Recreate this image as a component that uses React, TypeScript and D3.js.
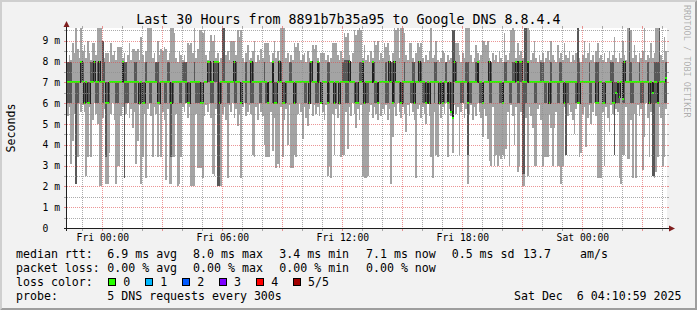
import React from "react";
import * as d3 from "d3";

// ---------------- data ----------------
const titleText = "Last 30 Hours from 8891b7b35a95 to Google DNS 8.8.4.4";
const yAxisTitle = "Seconds";
const watermarkText = "RRDTOOL / TOBI OETIKER";
const startIso = "2025-12-04T22:14:00Z";
const stepSeconds = 300;
const yTop = 9.62;
const yTickValues = [0, 1, 2, 3, 4, 5, 6, 7, 8, 9];
const yTickLabels = ["0", "1 m", "2 m", "3 m", "4 m", "5 m", "6 m", "7 m", "8 m", "9 m"];
const xTickTimes = ["2025-12-05T00:00:00Z", "2025-12-05T06:00:00Z", "2025-12-05T12:00:00Z", "2025-12-05T18:00:00Z", "2025-12-06T00:00:00Z"];
const xTickLabels = ["Fri 00:00", "Fri 06:00", "Fri 12:00", "Fri 18:00", "Sat 00:00"];

// median RTT (ms), one value per 300 s step
const medianRtt = [
  7,7,7,7,7,7,7,7,8,7, 6,7,6,6,7,7,8,7,7,8, 7,7,7,6,6,7,7,7,7,7, 7,7,7,8,7,7,7,7,7,7,
  7,7,7,6,7,6,6,7,7,7, 7,7,7,7,6,6,7,7,7,7, 7,7,6,7,7,7,7,7,7,7, 7,7,6,6,7,7,7,7,7,7,
  6,6,7,7,8,8,7,7,8,8, 8,6,7,7,7,7,7,7,7,7, 8,7,7,7,6,7,7,7,7,7, 8,7,7,7,7,7,7,7,7,7,
  6,7,7,8,6,6,7,8,7,6, 6,7,7,7,7,7,6,7,7,7, 7,7,7,7,7,6,8,7,7,7, 8,7,6,7,7,7,6,7,7,7,
  6,7,7,6,7,7,7,7,7,8, 7,7,7,6,6,7,7,8,6,7, 7,7,7,8,7,7,6,7,7,7, 7,7,7,8,7,6,8,7,7,7,
  6,7,7,7,7,7,7,7,6,7, 7,8,7,7,7,6,7,6,7,7, 7,7,7,6,7,6,7,7,6,7, 5.6,5.3,8,7,7,7,7,7,7,7,
  6,7,7,7,7,7,8,7,7,6, 7,7,7,8,7,7,7,7,7,7, 7,6,7,7,7,7,7,7,7,8, 7,8,8,7,7,7,8,7,7,7,
  7,7,7,7,7,7,7,7,7,6, 7,7,7,7,7,7,7,7,6,7, 7,7,7,7,7,7,6,6,7,7, 7,7,7,7,7,7,7,6,6,7,
  7,6,6,7,7,7,7,6,6,6.5, 7,6.3,7,6.2,8,7,7,7,7,7, 7,7,7,7,7,7,7,7,7,6, 7,6.5,7,7,6,7,7,7,7,7.2,
];
// lowest of the 5 pings
const smokeMin = [
  5.4,5.8,3.1,4.2,5.5,2.1,3.4,6.0,5.6,5.9, 5.6,2.5,3.4,5.8,3.4,5.2,6.0,5.5,5.0,2.0,
  2.0,5.3,5.7,2.1,2.1,3.6,5.5,6.0,5.2,2.1, 3.0,3.0,5.4,5.8,2.4,5.5,6.0,5.3,5.7,4.8,
  5.6,3.1,4.2,5.9,2.1,3.4,5.5,2.4,5.7,6.0, 5.4,3.4,5.8,5.5,3.4,5.9,3.4,5.6,5.2,2.3,
  5.7,2.1,2.1,3.4,3.4,5.5,2.0,2.1,3.4,5.8, 5.6,6.0,5.3,5.8,2.0,2.0,2.0,5.5,2.9,2.9,
  2.9,2.4,5.4,5.9,5.6,6.0,5.3,2.6,2.5,5.7, 2.0,2.0,2.0,5.5,5.8,5.2,2.4,5.9,5.6,6.0,
  5.3,5.7,4.9,5.5,2.4,5.8,6.0,5.4,5.6,5.9, 5.5,3.5,3.4,5.8,5.2,6.0,5.6,5.4,4.0,3.4,
  3.4,3.4,5.6,3.7,5.3,2.9,3.1,2.9,5.8,3.4, 5.2,5.7,4.0,5.9,2.9,2.9,3.5,3.4,5.5,6.0,
  5.6,4.3,5.8,5.3,4.9,5.7,6.0,5.4,5.9,5.5, 5.8,5.4,6.0,5.6,5.2,5.9,2.5,3.0,2.4,5.5,
  3.5,5.7,5.3,5.9,3.4,3.5,3.5,5.6,3.8,5.8, 5.4,6.0,5.5,4.8,5.7,5.2,5.9,2.5,2.4,2.4,
  2.5,5.6,5.9,5.3,5.8,5.5,5.2,6.0,5.4,5.7, 5.5,5.9,5.2,5.7,2.1,4.4,5.8,5.4,6.0,5.6,
  5.3,5.8,5.5,4.6,5.9,5.4,6.0,5.6,5.2,2.4, 5.7,5.9,5.3,5.8,5.5,5.0,6.0,5.4,3.4,2.4,
  5.6,3.5,3.4,5.9,5.3,5.8,5.5,6.0,3.4,5.7, 5.4,3.6,5.9,5.5,5.8,3.5,5.6,6.0,5.3,5.7,
  2.1,5.5,5.9,5.2,5.8,5.4,6.0,5.6,5.3,4.4, 5.7,5.4,4.3,3.2,3.0,5.8,3.0,3.5,3.0,3.5,
  3.3,3.5,3.3,3.8,5.6,3.0,5.9,5.4,4.0,5.8, 2.7,3.0,5.6,2.0,2.0,5.3,2.5,5.8,5.4,4.8,
  3.0,3.0,5.7,5.9,5.2,3.0,3.4,3.4,3.4,5.5, 4.8,3.0,4.8,5.6,3.0,3.0,2.1,3.0,5.8,3.5,
  5.4,5.9,5.6,5.2,4.5,5.7,6.0,3.4,3.6,5.5, 5.8,3.9,5.3,5.9,5.0,5.6,6.0,5.4,2.4,2.4,
  2.4,5.6,3.0,5.8,5.3,4.6,5.9,5.5,3.5,5.7, 5.6,2.4,2.1,3.5,3.5,5.8,3.3,3.3,5.2,2.4,
  5.5,2.4,5.9,5.4,5.7,2.8,4.4,6.0,5.3,3.4, 5.6,2.5,2.4,2.7,3.4,5.8,5.3,3.0,3.4,5.7,
];
// second-lowest ping
const smokeLow = [
  6,6,6,7,7,2.1,6,7,7,7, 6,6,6,6,7,7,7,6,6,7, 7,6,7,3.4,6,6,7,7,7,6, 6,7,7,7,2.4,6,6,7,7,7,
  6,6,7,6,6,6,6,7,7,6, 6,7,7,7,6,6,7,7,6,6, 7,6,3.4,6,7,7,7,6,6,7, 7,6,6,6,7,7,7,6,6,6,
  6,6,7,7,7,7,6,6,7,7, 2.0,2.0,6,7,7,7,6,6,7,7, 6,6,7,7,6,7,7,6,7,7, 6,6,7,7,7,6,6,7,7,6,
  6,7,7,6,6,6,7,7,7,6, 6,6,7,7,7,7,6,6,7,7, 7,7,6,6,7,6,7,7,7,6, 6,7,6,7,7,7,6,6,7,7,
  6,6,7,6,7,7,7,6,6,7, 7,7,6,6,6,7,7,7,6,6, 6,7,7,7,6,6,6,7,7,7, 7,6,6,7,7,6,6,7,7,6,
  6,6,7,7,7,7,6,6,6,7, 7,7,7,6,6,6,7,6,7,7, 6,7,7,6,6,7,6,7,6,6, 5.6,5.3,7,7,7,7,6,6,7,7,
  3.5,6,6,7,7,7,7,6,6,6, 7,7,7,6,6,7,7,7,7,6, 6,6,7,7,7,6,6,7,7,7, 6,6,7,2.6,2.6,6,7,7,7,7,
  6,6,7,7,7,7,6,6,7,7, 6,7,7,7,6,6,7,7,6,3.5, 6,7,7,7,7,6,6,6,7,7, 7,7,7,6,6,7,7,6,6,7,
  7,6,6,7,7,7,7,6,3.5,6, 6,6,7,6,6,7,7,7,6,6, 7,7,7,7,6,6,7,7,7,6, 6,2.5,2.5,6,7,7,7,7,6,6,
];
// second-highest ping
const smokeHigh = [
  8,8,8,7,7,7,7,7,8,8, 7,7,7,7,8,8,7,7,8,7, 7,9.0,8,7,7,7,7,7,7,7, 7,7,7,8,8,8,7,7,7,7,
  8,8,7,7,7,7,7,8,7,7, 7,7,7,8,8,7,7,7,7,7, 8,8,7,7,7,7,7,7,7,8, 8,8,7,7,7,7,8,7,7,7,
  7,7,7,7,8,8,8,7,8,8, 8,7,7,9.6,9.6,7,7,7,7,7, 8,8,7,7,7,7,7,8,7,7, 8,8,7,7,7,7,7,7,8,7,
  7,7,7,8,7,7,7,8,8,7, 7,7,7,8,8,7,7,7,7,7, 7,7,7,7,7,8,8,7,7,7, 8,8,7,7,7,7,8,8,7,7,
  7,7,7,7,7,8,8.1,8.1,8.1,8.1, 7,7,7,7,7,8,8,8,7,7, 7,7,7,8,8,7,7,7,7,7, 7,8,7,7,8,8,8,7,7,7,
  7,7,8,7,7,7,7,8,8,7, 7,8,8,7,7,7,7,7,7,7, 8,8,7,7,7,7,7,8,7,7, 7,9.5,9.5,8,7,7,7,7,7,8,
  8,7,7,7,7,8,8,7,7,7, 7,7,7,8,8,7,7,7,7,7, 7,7,8,8,7,7,7,8,8,8, 7,8,8,7,9.6,9.6,8,7,7,7,
  7,7,7,7,8,8,7,7,7,7, 8,7,7,7,7,8,8,7,7,7, 7,7,7,7,7,7,9.6,8,7,7, 7,7,7,8,7,7,7,8,8,7,
  7,7,7,7,7,7,8,8,7,7, 7,7,7,8,8,7,7,9.6,8,7, 7,7,7,8,7,7,7,7,8,7, 7,7,8,8,8,9.6,7,7,7,8,
];
// highest of the 5 pings
const smokeMax = [
  8.0,8.3,8.1,8.9,8.4,9.6,8.6,8.2,9.6,8.5, 8.8,8.2,9.0,8.4,8.1,8.9,8.9,8.3,9.6,9.6,
  9.6,9.0,8.2,8.4,8.4,8.0,8.9,8.3,8.5,8.1, 8.7,8.7,8.7,8.2,8.4,8.0,8.3,8.9,8.1,8.6,
  8.6,8.5,8.6,8.1,9.2,8.3,8.0,8.5,9.6,9.6, 9.6,8.2,8.4,8.0,9.0,8.3,8.6,8.5,8.7,8.6,
  8.1,8.4,9.6,9.6,9.4,8.2,8.0,8.5,8.3,8.1, 8.3,8.0,8.9,8.8,8.9,8.4,9.6,8.2,8.6,9.5,
  9.5,9.4,9.5,8.3,8.1,8.5,9.3,9.0,9.3,8.2, 8.4,8.0,8.2,9.6,9.6,8.3,8.5,8.1,9.0,9.0,
  9.0,8.3,9.5,9.2,9.5,8.2,8.0,8.4,8.8,8.1, 8.2,8.5,9.0,8.0,8.3,8.1,8.6,8.2,8.9,8.9,
  8.9,8.3,8.0,8.4,9.0,8.2,8.5,8.1,9.6,9.6, 9.6,8.2,8.4,8.0,8.3,8.1,8.9,8.7,8.9,8.5,
  8.1,8.3,8.4,8.0,8.5,8.2,8.0,8.8,8.6,8.8, 8.2,8.0,8.4,8.4,8.4,8.1,8.3,8.0,8.2,8.9,
  8.9,8.9,8.3,8.1,8.5,8.2,9.4,9.2,9.4,8.3, 8.0,8.4,9.5,9.3,9.5,9.6,9.5,8.2,8.8,8.1,
  8.3,8.0,8.5,8.2,9.0,8.8,9.0,8.1,8.4,8.2, 8.9,8.7,8.9,8.3,8.0,8.4,9.6,9.5,9.6,8.2,
  9.6,9.6,9.4,8.3,8.1,8.9,8.9,8.2,8.0,8.4, 8.9,8.7,8.9,8.2,8.0,8.3,8.1,8.5,9.6,8.2,
  8.3,9.0,8.1,8.0,8.2,8.5,8.4,8.0,8.3,8.1, 8.2,9.5,9.5,8.9,8.9,8.3,8.0,8.4,8.2,9.6,
  9.6,9.6,8.3,8.0,8.2,8.8,8.4,8.1,8.3,9.0, 9.0,8.8,9.0,8.2,8.0,8.4,8.1,8.3,8.0,8.5,
  8.2,8.0,9.4,8.3,8.1,8.4,9.5,9.6,9.5,8.2, 8.9,8.3,8.5,8.2,9.6,9.6,9.6,9.5,8.1,8.4,
  9.0,8.2,8.0,8.3,8.1,8.4,8.0,8.2,8.5,8.1, 9.0,8.3,8.1,8.0,8.8,8.2,8.4,8.1,8.9,8.3,
  8.2,8.5,8.0,8.3,8.1,8.4,9.6,8.2,8.0,8.3, 9.0,8.2,8.4,8.9,8.1,8.3,8.0,8.5,8.9,8.2,
  8.3,8.1,8.4,8.0,8.2,8.5,8.1,8.3,9.2,8.2, 8.0,8.4,8.2,9.0,8.3,8.1,9.6,9.6,9.5,8.2,
  8.8,8.3,8.0,8.4,8.2,8.5,9.6,8.1,8.3,8.2, 8.9,8.2,8.4,9.6,9.6,9.6,8.3,8.1,9.2,8.5,
];

const medianLabel = "median rtt:";
const medianStats = ["6.9 ms avg", "8.0 ms max", "3.4 ms min", "7.1 ms now", "0.5 ms sd"];
const medianAmsValue = "13.7";
const medianAmsUnit = "am/s";
const lossLabel = "packet loss:";
const lossStats = ["0.00 % avg", "0.00 % max", "0.00 % min", "0.00 % now"];
const lossColorLabel = "loss color:";
const lossColorNames = ["0", "1", "2", "3", "4", "5/5"];
const lossColors = ["#26ff00", "#00b8ff", "#0059ff", "#7e00ff", "#ff0000", "#a10000"];
const probeLabel = "probe:";
const probeText = "5 DNS requests every 300s";
const dateText = "Sat Dec  6 04:10:59 2025";

// ---------------- layout / style ----------------
const W = 697;
const H = 310;
const L = 67;
const R = 667;
const T = 28;
const B = 228;
const MONO = "'DejaVu Sans Mono', monospace";
const statX = [107.3, 193.1, 279.3, 366, 451.7];
const boxX = [108.5, 145.5, 182.5, 219.3, 256.5, 293.3];
const GRID = "rgba(143,143,143,0.75)";
const MGRID = "rgba(222,79,79,0.6)";

type Row = { t: Date; m: number; lo1: number; lo2: number; hi4: number; hi5: number };

export default function App() {
  const t0 = new Date(startIso).getTime();
  const n = medianRtt.length;
  const t1 = t0 + n * stepSeconds * 1000;
  const x = d3.scaleUtc().domain([new Date(t0), new Date(t1)]).range([L, R]);
  const y = d3.scaleLinear().domain([0, yTop]).range([B, T]);

  const rows: Row[] = d3.range(n + 1).map((i) => {
    const k = Math.min(i, n - 1);
    const m = medianRtt[k];
    const lo2 = Math.min(smokeLow[k], m);
    const hi4 = Math.max(smokeHigh[k], m);
    return {
      t: new Date(t0 + i * stepSeconds * 1000),
      m,
      lo2,
      hi4,
      lo1: Math.min(smokeMin[k], lo2),
      hi5: Math.max(smokeMax[k], hi4),
    };
  });

  const sw = yTop / (B - T);
  const lightArea = d3.area<Row>().x((d) => x(d.t)).y0((d) => y(d.lo1)).y1((d) => y(d.hi5)).curve(d3.curveStepAfter);
  const darkArea = d3.area<Row>().x((d) => x(d.t)).y0((d) => y(d.lo2)).y1((d) => y(d.hi4)).curve(d3.curveStepAfter);
  const medLine = d3.line<Row>().x((d) => x(d.t)).y((d) => y(d.m)).curve(d3.curveStepAfter);
  const medBand = d3.area<Row>().x((d) => x(d.t)).y0((d) => y(d.m - sw)).y1((d) => y(d.m + sw)).curve(d3.curveStepAfter);

  const hGrid = d3.range(1, Math.floor(yTop * 2) + 1).map((k) => k * 0.5);
  const hours = d3.utcHour.range(new Date(t0), new Date(t1));
  const px = (v: number) => Math.round(v) + 0.5;

  const rowY = [257.5, 271.5, 285.5, 299.5];

  return (
    <svg width={W} height={H} style={{ position: "absolute", left: 0, top: 0, display: "block" }} fontFamily={MONO}>
      <rect x={0} y={0} width={W} height={H} fill="#f2f2f2" />
      <polygon points={`0,${H} 2,${H - 2} 2,2 ${W - 2},2 ${W},0 0,0`} fill="#cfcfcf" />
      <polygon points={`2,${H - 2} ${W - 2},${H - 2} ${W - 2},2 ${W},0 ${W},${H} 0,${H}`} fill="#9e9e9e" />
      <rect x={L} y={T} width={R - L} height={B - T} fill="#ffffff" />

      {/* smoke */}
      <path d={lightArea(rows) || ""} fill="#a4a4a4" shapeRendering="crispEdges" />
      <path d={darkArea(rows) || ""} fill="#585858" shapeRendering="crispEdges" />
      <path d={medLine(rows) || ""} fill="none" stroke="#202020" strokeWidth={1} shapeRendering="crispEdges" />
      <path d={medBand(rows) || ""} fill={lossColors[0]} shapeRendering="crispEdges" />

      {/* grid */}
      {hGrid.map((v) => {
        const yy = px(y(v));
        const major = Number.isInteger(v);
        const c = major ? MGRID : GRID;
        return (
          <g key={"h" + v} shapeRendering="crispEdges">
            <line x1={L - 3} x2={L - 1} y1={yy} y2={yy} stroke={c} />
            <line x1={R} x2={R + 2} y1={yy} y2={yy} stroke={c} />
            <line x1={L} x2={R} y1={yy} y2={yy} stroke={c} strokeDasharray="1,1" />
          </g>
        );
      })}
      {hours.map((h) => {
        const xx = px(x(h));
        const major = h.getUTCHours() % 3 === 0;
        const c = major ? MGRID : GRID;
        return (
          <g key={"v" + h.getTime()} shapeRendering="crispEdges">
            <line x1={xx} x2={xx} y1={B + 1} y2={B + 3} stroke={c} />
            <line x1={xx} x2={xx} y1={T - 2} y2={T} stroke={c} />
            <line x1={xx} x2={xx} y1={T} y2={B} stroke={c} strokeDasharray="1,1" />
          </g>
        );
      })}

      {/* axes */}
      <line x1={L - 3} x2={R + 3} y1={B + 0.5} y2={B + 0.5} stroke="#1f1f1f" shapeRendering="crispEdges" />
      <line x1={L - 0.5} x2={L - 0.5} y1={B + 3} y2={T - 4} stroke="#1f1f1f" shapeRendering="crispEdges" />
      <polygon points={`${L - 0.5},${T - 7} ${L - 3.5},${T - 1} ${L + 2.5},${T - 1}`} fill="#801f1f" />
      <polygon points={`${R + 8},${B + 0.5} ${R + 2},${B - 2.5} ${R + 2},${B + 3.5}`} fill="#801f1f" />

      {/* y labels */}
      {yTickValues.map((v, i) => (
        <text key={"yl" + v} x={42.5} y={y(v) + 3.5} fontSize={9.7} fill="#000">
          {yTickLabels[i]}
        </text>
      ))}
      {/* x labels */}
      {xTickTimes.map((s, i) => (
        <text key={"xl" + s} x={x(new Date(s)) + 0.5} y={240.5} fontSize={9.7} textAnchor="middle" fill="#000">
          {xTickLabels[i]}
        </text>
      ))}

      {/* title */}
      <text x={W / 2} y={23.5} fontSize={13.3} textAnchor="middle" fill="#000">{titleText}</text>
      <text transform={`translate(15,${(T + B) / 2}) rotate(-90)`} fontSize={11.6} textAnchor="middle" fill="#000">
        {yAxisTitle}
      </text>
      <text transform={`translate(684,5) rotate(90)`} fontSize={8.5} fill="#000" fillOpacity={0.3}>
        {watermarkText}
      </text>

      {/* legend */}
      <g fontSize={11.6} fill="#000" style={{ whiteSpace: "pre" }}>
        <text x={16} y={rowY[0]}>{medianLabel}</text>
        {medianStats.map((s, i) => (
          <text key={"ms" + i} x={statX[i]} y={rowY[0]}>{s}</text>
        ))}
        <text x={523} y={rowY[0]}>{medianAmsValue}</text>
        <text x={580} y={rowY[0]}>{medianAmsUnit}</text>

        <text x={16} y={rowY[1]}>{lossLabel}</text>
        {lossStats.map((s, i) => (
          <text key={"ls" + i} x={statX[i]} y={rowY[1]}>{s}</text>
        ))}

        <text x={16} y={rowY[2]}>{lossColorLabel}</text>
        {lossColorNames.map((s, i) => (
          <g key={"lc" + i}>
            <rect x={boxX[i]} y={278.5} width={7} height={7} fill={lossColors[i]} stroke="#000" strokeWidth={1} shapeRendering="crispEdges" />
            <text x={boxX[i] + 14.7} y={rowY[2]}>{s}</text>
          </g>
        ))}

        <text x={16} y={rowY[3]}>{probeLabel}</text>
        <text x={107.3} y={rowY[3]}>{probeText}</text>
        <text x={681.5} y={rowY[3]} textAnchor="end" xmlSpace="preserve">{dateText}</text>
      </g>
    </svg>
  );
}
